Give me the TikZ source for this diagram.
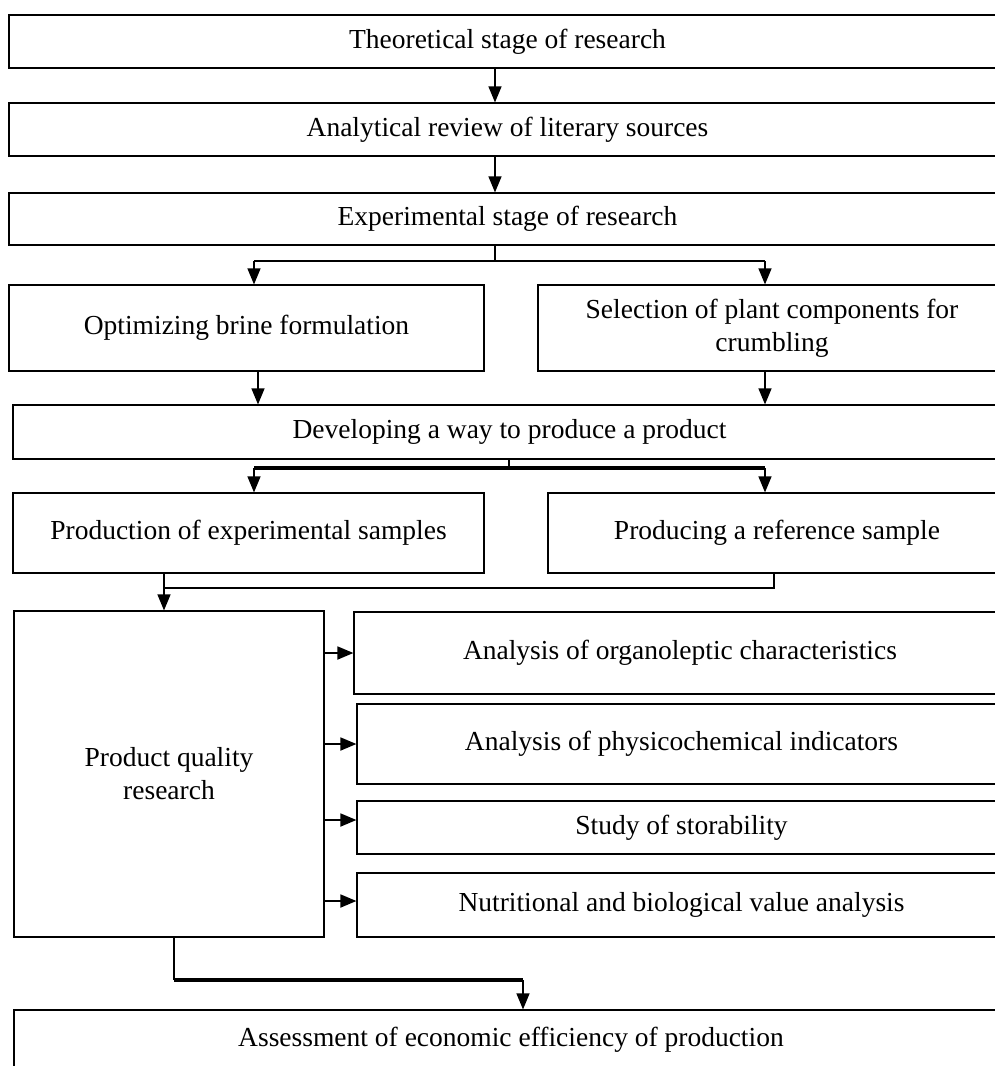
\documentclass[tikz,border=0pt]{standalone}
\usepackage{fontspec}
\setmainfont{Liberation Serif}
\usetikzlibrary{arrows.meta}
\begin{document}
\begin{tikzpicture}[x=1pt,y=-1pt,
  box/.style={draw, line width=1.2pt, rectangle, inner sep=0pt, align=center,
    font=\fontsize{27.5}{33}\selectfont},
  arr/.style={line width=1.3pt, -{Triangle[length=16pt,width=13pt]}},
  ln/.style={line width=1.3pt},
  mid/.style={line width=2pt},
  thk/.style={line width=3.2pt}]
\useasboundingbox (0,0) rectangle (995,1066);
\clip (0,0) rectangle (995,1066);

% boxes
\node[box, minimum width=997pt, minimum height=53pt] (b1) at (507.5,41.5) {Theoretical stage of research};
\node[box, minimum width=997pt, minimum height=53pt] (b2) at (507.5,129.5) {Analytical review of literary sources};
\node[box, minimum width=997pt, minimum height=52pt] (b3) at (507.5,219) {Experimental stage of research};
\node[box, minimum width=475pt, minimum height=86pt] (b4) at (246.5,328) {Optimizing brine formulation};
\node[box, minimum width=468pt, minimum height=86pt] (b5) at (772,328) {Selection of plant components for\\crumbling};
\node[box, minimum width=993pt, minimum height=54pt] (b6) at (509.5,432) {Developing a way to produce a product};
\node[box, minimum width=471pt, minimum height=80pt] (b7) at (248.5,533) {Production of experimental samples};
\node[box, minimum width=458pt, minimum height=80pt] (b8) at (777,533) {Producing a reference sample};
\node[box, minimum width=310pt, minimum height=326pt] (b9) at (169,774) {Product quality\\research};
\node[box, minimum width=652pt, minimum height=82pt] (rA) at (680,653) {Analysis of organoleptic characteristics};
\node[box, minimum width=649pt, minimum height=80pt] (rB) at (681.5,744) {Analysis of physicochemical indicators};
\node[box, minimum width=649pt, minimum height=53pt] (rC) at (681.5,827.5) {Study of storability};
\node[box, minimum width=649pt, minimum height=64pt] (rD) at (681.5,905) {Nutritional and biological value analysis};
\node[box, minimum width=994pt, minimum height=60pt] (b10) at (511,1040) {Assessment of economic efficiency of production};

% helper coordinates
\coordinate (x1) at (495,0);
\coordinate (xL) at (254,0);
\coordinate (xL2) at (258,0);
\coordinate (xR) at (765,0);
\coordinate (j1) at (495,261);
\coordinate (j2) at (509,468);
\coordinate (j3) at (164,588);
\coordinate (x3) at (774,0);
\coordinate (yC) at (0,820);
\coordinate (yD) at (0,901);
\coordinate (j4) at (174,980);
\coordinate (x5) at (523,0);

% connectors
\draw[arr] (b1.south -| x1) -- (b2.north -| x1);
\draw[arr] (b2.south -| x1) -- (b3.north -| x1);
\draw[ln] (b3.south -| x1) -- (j1);
\draw[mid] (j1 -| xL) -- (j1 -| xR);
\draw[arr] (j1 -| xL) -- (b4.north -| xL);
\draw[arr] (j1 -| xR) -- (b5.north -| xR);
\draw[arr] (b4.south -| xL2) -- (b6.north -| xL2);
\draw[arr] (b5.south -| xR) -- (b6.north -| xR);
\draw[ln] (b6.south -| j2) -- (j2);
\draw[thk] (j2 -| xL) -- (j2 -| xR);
\draw[arr] (j2 -| xL) -- (b7.north -| xL);
\draw[arr] (j2 -| xR) -- (b8.north -| xR);
\draw[ln] (b7.south -| j3) -- (j3) -- (j3 -| x3) -- (b8.south -| x3);
\draw[arr] (j3) -- (b9.north -| j3);
\draw[arr, line width=1.8pt] (b9.east |- rA.west) -- (rA.west);
\draw[arr, line width=1.8pt] (b9.east |- rB.west) -- (rB.west);
\draw[arr, line width=1.8pt] (b9.east |- yC) -- (rC.west |- yC);
\draw[arr, line width=1.8pt] (b9.east |- yD) -- (rD.west |- yD);
\draw[ln] (b9.south -| j4) -- (j4);
\draw[thk] (j4) -- (j4 -| x5);
\draw[arr] (j4 -| x5) -- (b10.north -| x5);
\end{tikzpicture}
\end{document}
